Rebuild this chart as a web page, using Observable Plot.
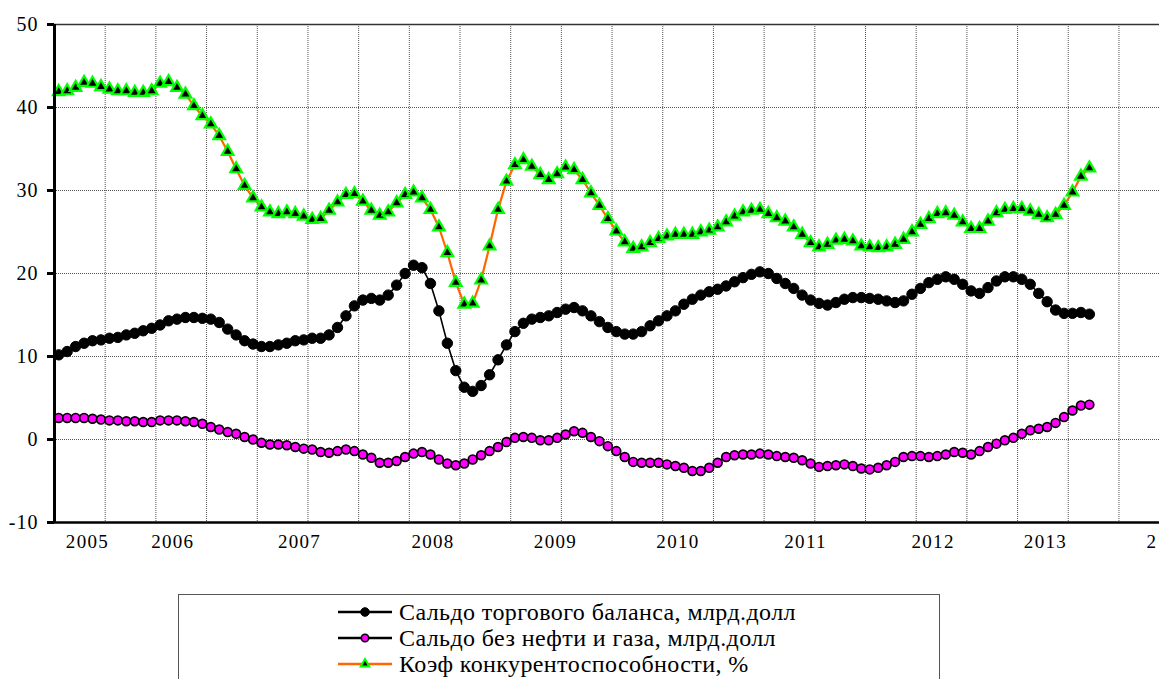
<!DOCTYPE html>
<html><head><meta charset="utf-8">
<script src="https://cdn.jsdelivr.net/npm/d3@7"></script>
<script src="https://cdn.jsdelivr.net/npm/@observablehq/plot@0.6"></script>
<style>
html,body{margin:0;padding:0;background:#fff;overflow:hidden;width:1159px;height:679px;position:relative;}
#chart{position:absolute;left:0;top:0;}
#legend{position:absolute;left:178px;top:594px;width:762px;height:130px;border:1.5px solid #555;box-sizing:border-box;font-family:"Liberation Serif","Times New Roman",Times,"DejaVu Serif","Noto Serif","FreeSerif",serif;font-size:24px;letter-spacing:0.4px;color:#000;}
.row{position:absolute;left:158px;height:26px;display:flex;align-items:center;white-space:nowrap;}
.row svg{margin-right:6px;}
#chart svg text{font-family:"Liberation Serif","Times New Roman",Times,"DejaVu Serif","Noto Serif","FreeSerif",serif;}
#chart svg [aria-label="x-axis tick label"] text{letter-spacing:1.3px;}
#chart svg [aria-label="y-axis tick label"] text{letter-spacing:1px;}
</style></head><body>
<div id="chart"></div><div id="legend"></div>
<script>
// Monthly series, first month = category 0
const tradeBalance = [10.2,10.6,11.2,11.6,11.9,12.0,12.2,12.3,12.6,12.8,13.1,13.4,13.8,14.3,14.5,14.7,14.7,14.6,14.5,14.1,
13.3,12.6,11.9,11.5,11.2,11.2,11.4,11.6,11.9,12.0,12.2,12.2,12.6,13.5,14.9,16.1,16.8,17.0,16.8,17.4,
18.6,20.0,21.0,20.7,18.8,15.5,11.6,8.3,6.3,5.8,6.5,7.8,9.6,11.4,13.0,14.0,14.5,14.7,14.9,15.3,
15.7,15.9,15.5,14.9,14.2,13.5,13.0,12.7,12.7,13.0,13.7,14.3,14.9,15.5,16.3,16.9,17.4,17.8,18.1,18.5,
19.0,19.5,19.9,20.2,20.0,19.4,18.8,18.2,17.4,16.8,16.4,16.2,16.5,16.9,17.1,17.1,17.0,16.9,16.7,16.5,
16.7,17.5,18.2,18.9,19.3,19.6,19.3,18.7,17.9,17.6,18.3,19.1,19.6,19.6,19.3,18.7,17.6,16.6,15.6,15.2,
15.2,15.3,15.1];
const nonOilBalance = [2.6,2.6,2.6,2.6,2.5,2.4,2.3,2.3,2.2,2.2,2.1,2.1,2.3,2.3,2.3,2.2,2.1,1.9,1.5,1.2,
0.9,0.7,0.3,0.0,-0.4,-0.6,-0.6,-0.7,-0.9,-1.1,-1.2,-1.5,-1.6,-1.4,-1.2,-1.4,-1.8,-2.2,-2.8,-2.8,
-2.6,-2.1,-1.7,-1.5,-1.8,-2.4,-2.9,-3.1,-2.9,-2.4,-1.9,-1.4,-0.9,-0.3,0.2,0.3,0.2,-0.1,-0.1,0.2,
0.6,1.0,0.8,0.3,-0.2,-0.8,-1.4,-2.1,-2.7,-2.8,-2.8,-2.8,-3.0,-3.2,-3.4,-3.8,-3.8,-3.4,-2.8,-2.1,
-1.9,-1.8,-1.8,-1.7,-1.8,-2.0,-2.1,-2.2,-2.5,-2.9,-3.3,-3.2,-3.1,-3.0,-3.2,-3.5,-3.6,-3.4,-3.1,-2.7,
-2.1,-2.0,-2.0,-2.1,-2.0,-1.8,-1.5,-1.6,-1.8,-1.4,-0.9,-0.5,-0.1,0.2,0.7,1.1,1.3,1.5,2.0,2.7,
3.5,4.1,4.2];
const competitiveness = [41.9,42.0,42.4,43.0,42.9,42.5,42.2,42.0,42.0,41.8,41.8,42.0,42.9,43.1,42.4,41.6,40.2,39.0,38.0,36.6,
34.7,32.6,30.6,29.1,28.0,27.4,27.2,27.4,27.2,26.9,26.5,26.6,27.6,28.6,29.5,29.6,28.7,27.6,27.0,27.4,
28.5,29.5,29.8,29.1,27.7,25.6,22.5,18.9,16.3,16.4,19.2,23.3,27.7,31.1,33.1,33.7,32.9,31.9,31.3,32.0,
32.8,32.5,31.3,29.7,28.2,26.6,25.1,23.8,23.0,23.2,23.7,24.2,24.5,24.7,24.7,24.7,25.0,25.2,25.6,26.2,
26.9,27.4,27.6,27.7,27.2,26.7,26.3,25.6,24.7,23.7,23.2,23.5,24.0,24.1,23.9,23.3,23.2,23.1,23.2,23.5,
24.1,25.0,25.9,26.6,27.2,27.3,27.0,26.2,25.4,25.4,26.3,27.3,27.7,27.8,27.8,27.5,27.1,26.7,27.1,28.2,
29.8,31.7,32.7];
const yearLabels = ["2005","2006","2007","2008","2009","2010","2011","2012","2013","2"];
const yearLabelPos = [3.4,13.5,28.5,44.3,58.8,73.3,88.4,103.5,116.8,129.4];
const yTicks = [-10,0,10,20,30,40,50];
const seriesNames = ["Сальдо торгового баланса, млрд.долл","Сальдо без нефти и газа, млрд.долл","Коэф конкурентоспособности, %"];

const toRows = arr => arr.map((v,i)=>({m:i, v}));
const s1 = toRows(tradeBalance), s2 = toRows(nonOilBalance), s3 = toRows(competitiveness);
const gridX = d3.range(1,22).map(k=>6*k-0.5); // boundaries every 6 months
const labelOf = new Map(yearLabelPos.map((p,i)=>[p,yearLabels[i]]));
const grid = {stroke:"#3a3a3a", strokeDasharray:"1,1", strokeWidth:1, strokeOpacity:0.85};
const serif = "'Liberation Serif','Times New Roman',Times,'DejaVu Serif','Noto Serif',FreeSerif,serif";

const chart = Plot.plot({
  width:1159, height:575,
  marginLeft:54, marginRight:0, marginTop:24, marginBottom:53,
  x:{domain:[-0.5,130.3], label:null},
  y:{domain:[-10,50], label:null},
  style:{fontFamily:serif, background:"white", color:"black", overflow:"visible"},
  marks:[
    Plot.ruleX(gridX, grid),
    Plot.ruleY([0,10,20,30,40], grid),
    Plot.ruleY([50], {stroke:"#333", strokeWidth:1.5}),
    Plot.line(s1, {x:"m", y:"v", stroke:"black", strokeWidth:1.6}),
    Plot.dot(s1, {x:"m", y:"v", r:5.2, fill:"black", stroke:"black", strokeWidth:1}),
    Plot.line(s2, {x:"m", y:"v", stroke:"black", strokeWidth:1.6}),
    Plot.dot(s2, {x:"m", y:"v", r:4.4, fill:"#FF00FF", stroke:"black", strokeWidth:1.7}),
    Plot.line(s3, {x:"m", y:"v", stroke:"#FF6600", strokeWidth:2.2}),
    Plot.dot(s3, {x:"m", y:"v", symbol:"triangle", r:4.3, fill:"black", stroke:"#00FF00", strokeWidth:2.2}),
    Plot.ruleY([-10], {stroke:"black", strokeWidth:2.5}),
    Plot.ruleX([-0.5], {stroke:"black", strokeWidth:3}),
    Plot.axisY({ticks:yTicks, tickSize:7, tickPadding:9, strokeWidth:3, tickFormat:d=>String(d), fontSize:20, label:null}),
    Plot.axisX({ticks:yearLabelPos, tickSize:0, tickPadding:12, tickFormat:d=>labelOf.get(d), fontSize:19, label:null})
  ]
});
document.getElementById("chart").appendChild(chart);

// Legend
const legend = d3.select("#legend");
const symbols = [
  {line:"black", fill:"black", stroke:"black", sw:1, shape:"circle", r:4.3},
  {line:"black", fill:"#FF00FF", stroke:"black", sw:1.6, shape:"circle", r:3.7},
  {line:"#FF6600", fill:"black", stroke:"#00FF00", sw:2, shape:"triangle", r:3.2}
];
seriesNames.forEach((name,i)=>{
  const row = legend.append("div").attr("class","row").style("top",(4+i*26)+"px");
  const svg = row.append("svg").attr("width",56).attr("height",26);
  const sy = symbols[i];
  svg.append("line").attr("x1",1).attr("x2",55).attr("y1",13).attr("y2",13)
    .attr("stroke",sy.line).attr("stroke-width",2.5);
  if (sy.shape==="circle") {
    svg.append("circle").attr("cx",28).attr("cy",13).attr("r",sy.r)
      .attr("fill",sy.fill).attr("stroke",sy.stroke).attr("stroke-width",sy.sw);
  } else {
    svg.append("path").attr("transform","translate(28,13)")
      .attr("d",d3.symbol(d3.symbolTriangle, Math.PI*sy.r*sy.r)())
      .attr("fill",sy.fill).attr("stroke",sy.stroke).attr("stroke-width",sy.sw);
  }
  row.append("span").text(name);
});
</script>
</body></html>
